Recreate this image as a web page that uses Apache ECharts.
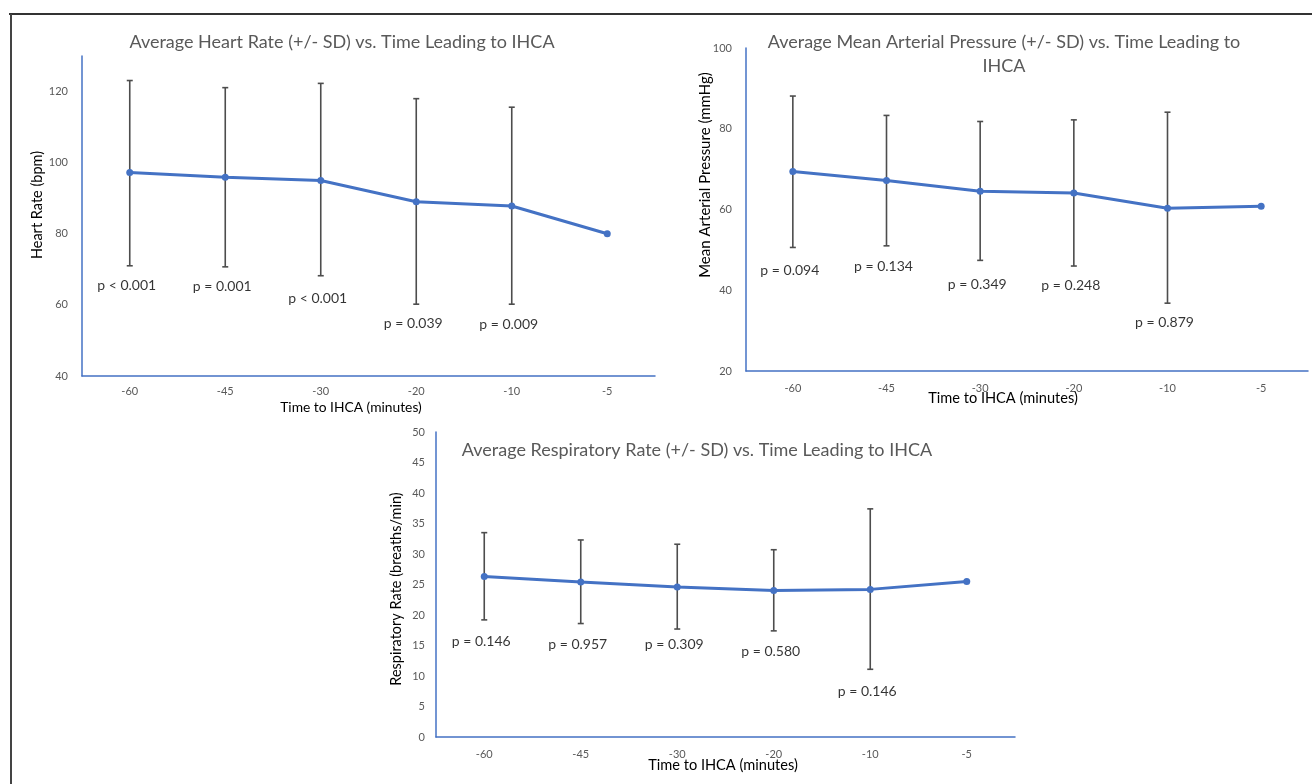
<!DOCTYPE html>
<html><head><meta charset="utf-8">
<script src="https://cdn.jsdelivr.net/npm/echarts@6/dist/echarts.min.js"></script>
<style>html,body{margin:0;padding:0;background:#fff}#c{width:1312px;height:784px}</style>
</head><body><div id="c"></div>
<script>
// ---- data ----
const categories = ['-60', '-45', '-30', '-20', '-10', '-5'];

const hrMean  = [97.2, 95.9, 95.0, 89.0, 87.8, 80.0];
const hrUpper = [123.1, 121.1, 122.3, 118.0, 115.6];
const hrLower = [71.0, 70.7, 68.2, 60.2, 60.2];
const hrP     = ['p < 0.001', 'p = 0.001', 'p < 0.001', 'p = 0.039', 'p = 0.009'];
const hrPAnchor = [65.4, 65.1, 61.7, 54.9, 54.6];

const mapMean  = [69.4, 67.2, 64.5, 64.1, 60.3, 60.8];
const mapUpper = [88.1, 83.3, 81.8, 82.2, 84.1];
const mapLower = [50.6, 51.0, 47.4, 46.0, 36.8];
const mapP     = ['p = 0.094', 'p = 0.134', 'p = 0.349', 'p = 0.248', 'p = 0.879'];
const mapPAnchor = [44.8, 46.0, 41.5, 41.1, 31.9];

const rrMean  = [26.3, 25.4, 24.6, 24.0, 24.2, 25.5];
const rrUpper = [33.5, 32.3, 31.6, 30.7, 37.4];
const rrLower = [19.2, 18.6, 17.7, 17.4, 11.1];
const rrP     = ['p = 0.146', 'p = 0.957', 'p = 0.309', 'p = 0.580', 'p = 0.146'];
const rrPAnchor = [15.7, 15.2, 15.1, 14.1, 7.4];

const hrTicks  = { min: 40, max: 130, interval: 20 };
const mapTicks = { min: 20, max: 100, interval: 20 };
const rrTicks  = { min: 0, max: 50, interval: 5 };

const xName = 'Time to IHCA (minutes)';
const hrYName = 'Heart Rate (bpm)';
const mapYName = 'Mean Arterial Pressure (mmHg)';
const rrYName = 'Respiratory Rate (breaths/min)';

// ---- style ----
const FONT = 'Lato';
const BLUE = '#4472C4';
const ERR = '#4d4d4d';
const GRAY = '#595959';

function errRender(params, api) {
  const i = api.value(0);
  const lo = api.coord([i, api.value(1)]);
  const hi = api.coord([i, api.value(2)]);
  const w = 3;
  const st = { stroke: ERR, lineWidth: 1.6 };
  return { type: 'group', children: [
    { type: 'line', shape: { x1: hi[0], y1: hi[1], x2: lo[0], y2: lo[1] }, style: st },
    { type: 'line', shape: { x1: hi[0] - w, y1: hi[1], x2: hi[0] + w, y2: hi[1] }, style: st },
    { type: 'line', shape: { x1: lo[0] - w, y1: lo[1], x2: lo[0] + w, y2: lo[1] }, style: st }
  ]};
}

function xAxis(gi, margin) {
  return {
    type: 'category', gridIndex: gi, data: categories, boundaryGap: true,
    axisLine: { lineStyle: { color: BLUE, width: 1.5 } },
    axisTick: { show: false },
    axisLabel: { color: GRAY, fontFamily: FONT, fontSize: 11, margin: margin, interval: 0 }
  };
}
function yAxis(gi, ticks, margin) {
  return {
    type: 'value', gridIndex: gi, min: ticks.min, max: ticks.max, interval: ticks.interval,
    axisLine: { show: true, lineStyle: { color: BLUE, width: 1.5 } },
    axisTick: { show: false }, splitLine: { show: false },
    axisLabel: { color: GRAY, fontFamily: FONT, fontSize: 11, margin: margin, showMaxLabel: ticks.max % ticks.interval === 0 }
  };
}
function lineSeries(gi, data) {
  return { type: 'line', xAxisIndex: gi, yAxisIndex: gi, data: data, z: 5,
    lineStyle: { color: BLUE, width: 3 }, itemStyle: { color: BLUE },
    symbol: 'circle', symbolSize: 7, showSymbol: true, animation: false };
}
function errSeries(gi, lower, upper) {
  return { type: 'custom', xAxisIndex: gi, yAxisIndex: gi, renderItem: errRender, z: 3,
    encode: { x: 0, y: [1, 2] },
    data: lower.map((l, i) => [i, l, upper[i]]), animation: false };
}
function pSeries(gi, texts, anchors) {
  return { type: 'scatter', xAxisIndex: gi, yAxisIndex: gi, symbolSize: 2, z: 6,
    itemStyle: { color: 'rgba(0,0,0,0)' }, silent: true,
    data: anchors.map((a, i) => [i, a]),
    label: { show: true, position: 'inside', offset: [-3, 0], formatter: p => texts[p.dataIndex],
      color: '#000', fontFamily: FONT, fontSize: 14 }, animation: false };
}
function nameText(text, x, y, size, rotated) {
  return { type: 'text', x: x, y: y, rotation: rotated ? Math.PI / 2 : 0, z: 10,
    style: { text: text, fill: '#000', font: size + 'px ' + FONT, textAlign: 'center', textVerticalAlign: 'middle' } };
}

const titleStyle = { color: GRAY, fontFamily: FONT, fontSize: 18, fontWeight: 'normal', lineHeight: 24 };

const chart = echarts.init(document.getElementById('c'));
chart.setOption({
  backgroundColor: '#fff',
  animation: false,
  title: [
    { text: 'Average Heart Rate (+/- SD) vs. Time Leading to IHCA', left: 342, top: 30, textAlign: 'center', padding: 0, textStyle: titleStyle },
    { text: 'Average Mean Arterial Pressure (+/- SD) vs. Time Leading to\nIHCA', left: 1004, top: 30, textAlign: 'center', padding: 0, textStyle: titleStyle },
    { text: 'Average Respiratory Rate (+/- SD) vs. Time Leading to IHCA', left: 697, top: 438, textAlign: 'center', padding: 0, textStyle: titleStyle }
  ],
  grid: [
    { left: 82, top: 56, width: 573, height: 320 },
    { left: 746, top: 48, width: 562, height: 323 },
    { left: 436, top: 432, width: 579, height: 305 }
  ],
  xAxis: [xAxis(0, 10), xAxis(1, 12), xAxis(2, 12)],
  yAxis: [yAxis(0, hrTicks, 14), yAxis(1, mapTicks, 14), yAxis(2, rrTicks, 11)],
  series: [
    errSeries(0, hrLower, hrUpper), lineSeries(0, hrMean), pSeries(0, hrP, hrPAnchor),
    errSeries(1, mapLower, mapUpper), lineSeries(1, mapMean), pSeries(1, mapP, mapPAnchor),
    errSeries(2, rrLower, rrUpper), lineSeries(2, rrMean), pSeries(2, rrP, rrPAnchor)
  ],
  graphic: [
    { type: 'line', shape: { x1: 9, y1: 14, x2: 1312, y2: 14 }, style: { stroke: '#333', lineWidth: 2 } },
    { type: 'line', shape: { x1: 11, y1: 14, x2: 11, y2: 784 }, style: { stroke: '#444', lineWidth: 2 } },
    nameText(hrYName, 37, 205, 14.5, true),
    nameText(mapYName, 705, 175, 15, true),
    nameText(rrYName, 396, 589, 14.5, true),
    nameText(xName, 351, 408, 13.8, false),
    nameText(xName, 1003, 398, 14.6, false),
    nameText(xName, 723, 765, 14.6, false)
  ]
});
</script>
</body></html>
